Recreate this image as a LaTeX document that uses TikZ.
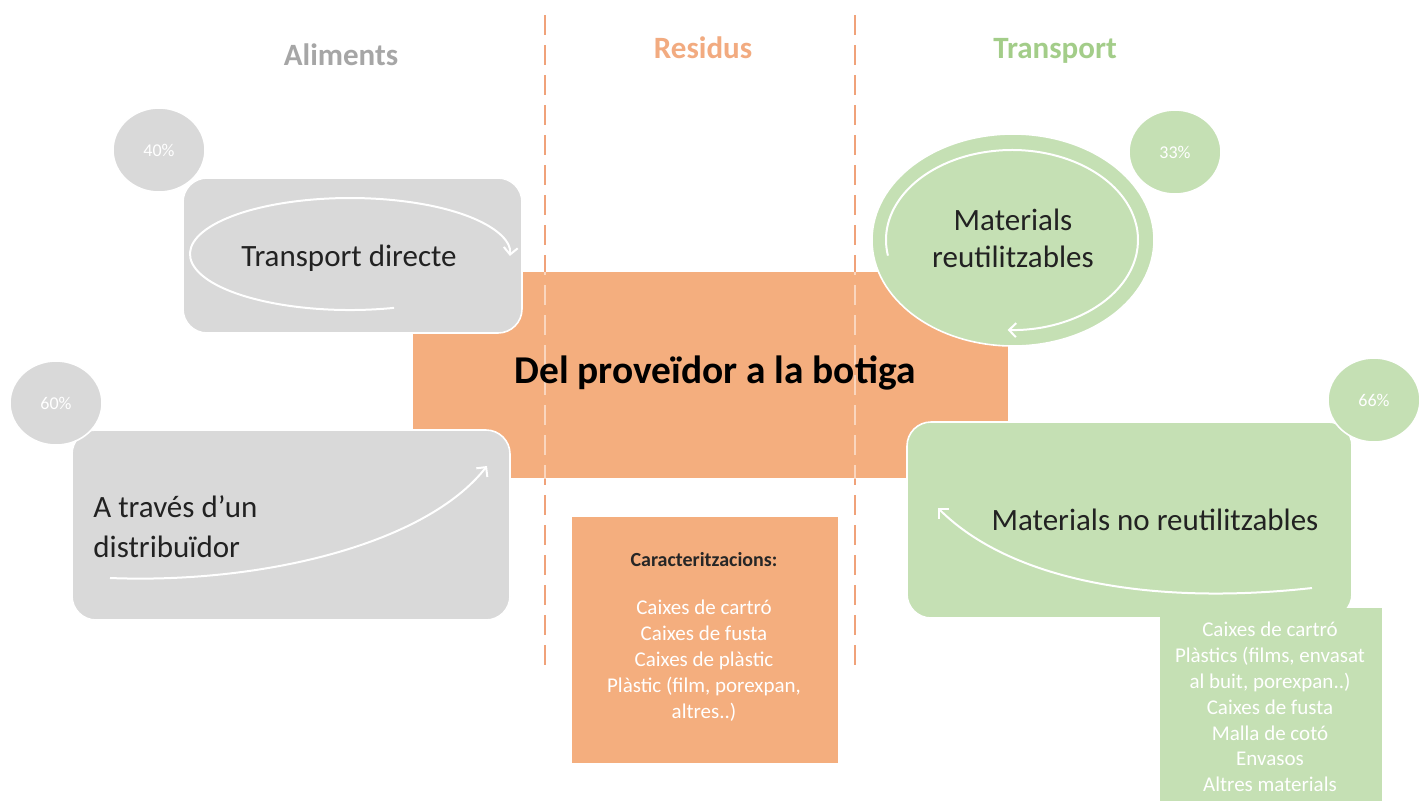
\documentclass[tikz,border=0pt]{standalone}
\usepackage{fontspec}
\setmainfont{Carlito}
\usetikzlibrary{arrows.meta,shapes.geometric}
\definecolor{gbox}{HTML}{D9D9D9}
\definecolor{gtitle}{HTML}{A6A6A6}
\definecolor{obox}{HTML}{F4AE7E}
\definecolor{otitle}{HTML}{F2AB80}
\definecolor{grbox}{HTML}{C5E0B4}
\definecolor{grtitle}{HTML}{A3CD89}
\definecolor{odash}{HTML}{F0A27A}
\definecolor{odashlight}{HTML}{FAD6BE}
\definecolor{txt}{HTML}{222222}
\begin{document}
\begin{tikzpicture}[x=0.5pt,y=-0.5pt,
  every node/.style={inner sep=0pt},
  card/.style={draw=white,line width=0.8pt,rounded corners=12pt},
  hdr/.style={font=\fontsize{15.5}{18}\selectfont\bfseries,anchor=base},
  maintxt/.style={text=txt,font=\fontsize{15.5}{19.5}\selectfont},
  pct/.style={ellipse,fill=#1,draw=white,line width=0.8pt,text=white,minimum width=46pt,minimum height=42pt,font=\fontsize{9}{10}\selectfont},
  lst/.style={text=white,align=center,font=\fontsize{10.5}{12.9}\selectfont},
  warrow/.style={draw=white,line width=1pt,-{Straight Barb[length=3.5pt,width=7pt]}},
  sepline/.style={draw=#1,line width=0.8pt,dash pattern=on 10pt off 5pt}]
\useasboundingbox (0,0) rectangle (1420,800);
\fill[white] (0,0) rectangle (1420,800);

% separators
\coordinate (s1t) at (545,15); \coordinate (s1b) at (545,665);
\coordinate (s2t) at (855,15); \coordinate (s2b) at (855,665);
\draw[sepline=odash] (s1t) -- (s1b);
\draw[sepline=odash] (s2t) -- (s2b);

% headers
\node[hdr,text=gtitle] (hAl) at (341,65) {Aliments};
\node[hdr,text=otitle] (hRe) at (703,58) {Residus};
\node[hdr,text=grtitle] (hTr) at (1055,58) {Transport};

% central box
\node[fill=obox,minimum width=297.5pt,minimum height=103pt] (center) at (710.5,375) {};
\begin{scope}
  \clip (413,272) rectangle (1008,478);
  \draw[sepline=odashlight] (s1t) -- (s1b);
  \draw[sepline=odashlight] (s2t) -- (s2b);
\end{scope}
\node[font=\fontsize{19.7}{22}\selectfont\bfseries,text=black] (title) at (715,373) {Del proveïdor a la botiga};

% gray box 1
\node[card,fill=gbox,minimum width=169.5pt,minimum height=77.5pt] (direct) at (352.5,255.5) {};
\node[maintxt] (directT) at (349,258) {Transport directe};
\coordinate (e1c) at (350,254);
\draw[warrow] ([shift={(-74:80pt and 28pt)}]e1c) arc[start angle=-74,end angle=-362,x radius=80pt,y radius=28pt];

% gray box 2
\node[card,fill=gbox,minimum width=219pt,minimum height=95pt] (distr) at (291,525) {};
\node[maintxt,anchor=west,align=left,font=\fontsize{15.5}{20}\selectfont] (distrT) at (93,527) {A través d’un\\distribuïdor};
\coordinate (a2s) at (110,578);
\coordinate (a2e) at (487,466);
\draw[warrow] (a2s) .. controls (260,584) and (425,545) .. (a2e);

% green ellipse
\node[ellipse,draw=white,line width=0.8pt,fill=grbox,minimum width=141pt,minimum height=106pt] (reut) at (1013,240) {};
\node[maintxt,align=center,font=\fontsize{15.5}{18.5}\selectfont] (reutT) at (1013,238) {Materials\\reutilitzables};
\coordinate (e3c) at (1012,240);
\draw[warrow] ([shift={(190:63pt and 45pt)}]e3c) arc[start angle=190,end angle=-92,x radius=63pt,y radius=45pt];

% green box
\node[card,fill=grbox,minimum width=222.5pt,minimum height=98pt] (noreut) at (1129.5,520) {};
\node[maintxt] (noreutT) at (1155,520) {Materials no reutilitzables};
\coordinate (a4s) at (1312,588);
\coordinate (a4e) at (938,508);
\draw[warrow] (a4s) .. controls (1150,606) and (1010,580) .. (a4e);

% green list
\node[fill=grbox,minimum width=111pt,minimum height=98pt] (nlist) at (1271,706) {};
\node[lst] (nlistT) at (1270,707) {Caixes de cartró\\Plàstics (films, envasat\\al buit, porexpan..)\\Caixes de fusta\\Malla de cotó\\Envasos\\Altres materials};

% orange list
\node[fill=obox,minimum width=133pt,minimum height=123pt] (olist) at (705,640) {};
\node[font=\fontsize{10}{12}\selectfont\bfseries,text=black!85] (olistH) at (704,560) {Caracteritzacions:};
\node[lst,font=\fontsize{10.5}{13}\selectfont] (olistT) at (704,661) {Caixes de cartró\\Caixes de fusta\\Caixes de plàstic\\Plàstic (film, porexpan,\\altres..)};

% percentage circles
\node[pct=gbox] (p40) at (159,150) {40\%};
\node[pct=gbox] (p60) at (56,403) {60\%};
\node[pct=grbox] (p33) at (1175,152) {33\%};
\node[pct=grbox] (p66) at (1374,400) {66\%};
\end{tikzpicture}
\end{document}
